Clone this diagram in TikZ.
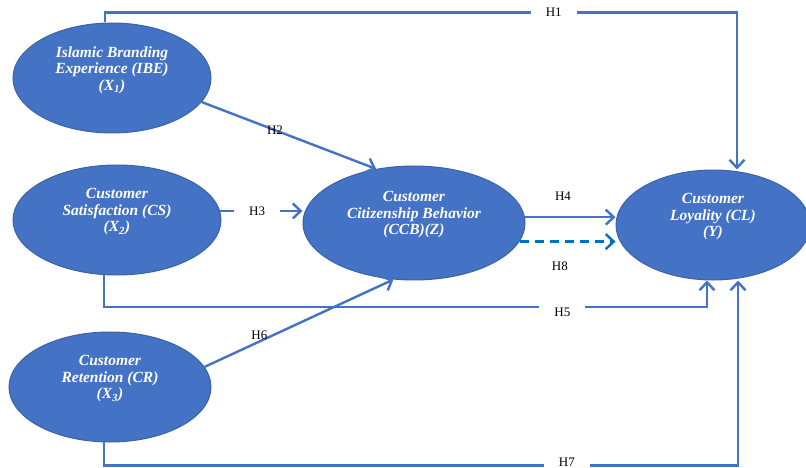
\documentclass[tikz,border=0pt]{standalone}
\usepackage{fontspec}
\setmainfont{Liberation Serif}
\usepackage{tikz}
\usetikzlibrary{shapes.geometric,arrows.meta}
\definecolor{ovalblue}{HTML}{4472C4}
\definecolor{ovaledge}{HTML}{3A62A8}
\definecolor{dashblue}{HTML}{0070C0}

\begin{document}
\begin{tikzpicture}[x=1pt, y=-1pt,
    oval/.style={ellipse, draw=ovaledge, line width=1pt, fill=ovalblue, inner sep=0pt, align=center, text=white, font=\fontsize{15.5}{16.5}\selectfont\bfseries\itshape},
    link/.style={-{Straight Barb[length=8pt,width=15pt]}, line width=2.4pt, color=ovalblue},
    hyp/.style={font=\fontsize{13}{15}\selectfont, text=black, inner sep=1pt},
    hypgap/.style={hyp, fill=white, inner xsep=15pt, inner ysep=4pt}]
  \useasboundingbox (0,0) rectangle (806,468);

  % constructs
  \node[oval, minimum width=198pt, minimum height=110pt] (ibe) at (112,78) {Islamic Branding\\Experience (IBE)\\(X\textsubscript{1})\\[3pt]\mbox{}};
  \node[oval, minimum width=208pt, minimum height=110pt] (cs) at (117,220) {Customer\\Satisfaction (CS)\\(X\textsubscript{2})\\[3pt]\mbox{}};
  \node[oval, minimum width=202pt, minimum height=110pt] (cr) at (110,387) {Customer\\Retention (CR)\\(X\textsubscript{3})\\[3pt]\mbox{}};
  \node[oval, minimum width=222pt, minimum height=114pt] (ccb) at (414,223) {Customer\\Citizenship Behavior\\(CCB)(Z)\\[3pt]\mbox{}};
  \node[oval, minimum width=194pt, minimum height=110pt] (cl) at (713,225) {Customer\\Loyality (CL)\\(Y)\\[3pt]\mbox{}};

  % hypotheses
  \draw[link] ([xshift=-7pt]ibe.north) -- ++(0,-10) -| node[hypgap, pos=0.355] (h1) {H1} ([xshift=24pt]cl.north);
  \draw[link] (ibe.-15) -- node[hyp, pos=0.42] (h2) {H2} (ccb.125);
  \draw[link] (cs.5) -- node[hypgap, pos=0.45] (h3) {H3} (cs.5 -| ccb.west);
  \draw[link] (ccb.3) -- node[hyp, pos=0.42, yshift=21pt] (h4) {H4} (ccb.3 -| cl.west);
  \draw[link] (cs.257) -- ++(0,32) -| node[hypgap, pos=0.38, yshift=-5pt] (h5) {H5} ([xshift=-6pt]cl.south);
  \draw[link] (cr.12) -- node[hyp, pos=0.29, yshift=6pt] (h6) {H6} (ccb.250);
  \draw[link] (cr.264) -- ++(0,23) -| node[hypgap, pos=0.365, yshift=3pt] (h7) {H7} ([xshift=25pt]cl.south);
  \draw[link, color=dashblue, dash pattern=on 9pt off 6pt] (ccb.-10) -- node[hyp, pos=0.42, yshift=-25pt] (h8) {H8} (ccb.-10 -| cl.west);
\end{tikzpicture}
\end{document}
